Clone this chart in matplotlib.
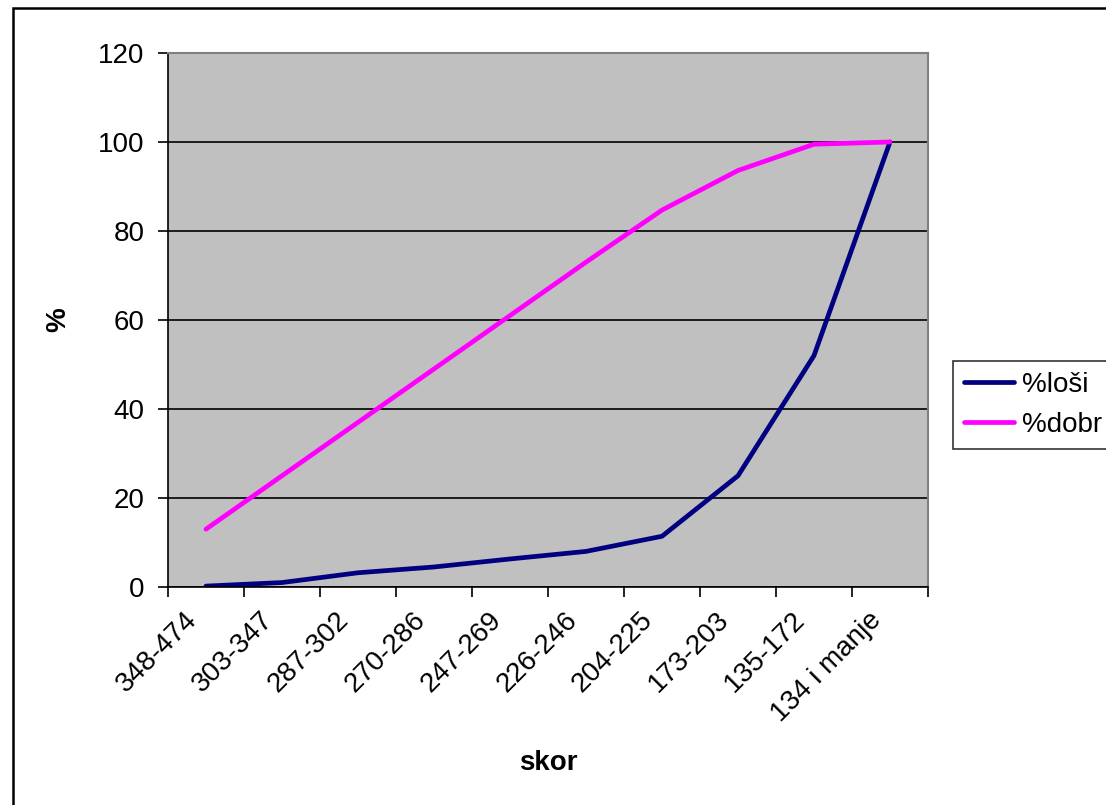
import matplotlib.pyplot as plt
import matplotlib.transforms as mtransforms
from matplotlib.patches import Rectangle

plt.rcParams['font.family'] = ['Liberation Sans', 'DejaVu Sans']

kategorije = ['348-474', '303-347', '287-302', '270-286', '247-269',
              '226-246', '204-225', '173-203', '135-172', '134 i manje']
losi = [0.2, 1.0, 3.2, 4.5, 6.3, 8.0, 11.4, 25.0, 52.0, 100.0]
dobri = [13.0, 25.0, 37.0, 49.0, 61.0, 73.0, 84.7, 93.6, 99.5, 100.0]
y_ticks = [0, 20, 40, 60, 80, 100, 120]

fig = plt.figure(figsize=(11.06, 8.05), dpi=100)
ax = fig.add_axes([168 / 1106, 1 - 587 / 805, 760 / 1106, 534 / 805])
ax.set_facecolor('#C0C0C0')

x = list(range(len(kategorije)))
ax.plot(x, losi, color='#000080', lw=3.4, label='%loši', solid_capstyle='round')
ax.plot(x, dobri, color='#FF00FF', lw=3.4, label='%dobr', solid_capstyle='round')

ax.set_xlim(-0.5, len(kategorije) - 0.5)
ax.set_ylim(0, 120)
ax.set_yticks(y_ticks)
ax.yaxis.grid(True, color='black', lw=1.2)
ax.set_axisbelow(True)

# category labels sit at the centres, tick marks at the boundaries
ax.set_xticks(x)
ax.set_xticklabels(kategorije, rotation=45, ha='right', va='top',
                   rotation_mode='anchor', fontsize=20)
ax.set_xticks([i - 0.5 for i in range(len(kategorije) + 1)], minor=True)
ax.tick_params(axis='x', which='major', length=0, pad=14.5)
ax.tick_params(axis='x', which='minor', length=7, width=1.2, direction='out')
ax.tick_params(axis='y', length=7, width=1.2, pad=10, labelsize=20)
shift = mtransforms.ScaledTranslation(-0.22, 0, fig.dpi_scale_trans)
for lbl in ax.get_xticklabels():
    lbl.set_transform(lbl.get_transform() + shift)

for side in ('top', 'right'):
    ax.spines[side].set_color('#808080')
    ax.spines[side].set_linewidth(1.5)
for side in ('left', 'bottom'):
    ax.spines[side].set_color('black')
    ax.spines[side].set_linewidth(1.2)

ax.set_xlabel('skor', fontsize=20, fontweight='bold')
ax.set_ylabel('%', fontsize=20, fontweight='bold', labelpad=19)
ax.xaxis.set_label_coords(0.5, -0.305)

leg = ax.legend(loc='center left', bbox_to_anchor=(953 / 1106, 1 - 450 / 805, 150 / 1106, 90 / 805),
                bbox_transform=fig.transFigure, fontsize=20, frameon=True, fancybox=False,
                handlelength=1.8, handletextpad=0.3, borderpad=0.4, labelspacing=0.5,
                borderaxespad=0)
leg.get_frame().set_edgecolor('black')
leg.get_frame().set_linewidth(1.2)

fig.patches.append(Rectangle((13 / 1106, -0.1), 1.2, 1.1 - 8 / 805, transform=fig.transFigure,
                             fill=False, edgecolor='black', lw=1.8))

fig.savefig('out.png', dpi=100)
